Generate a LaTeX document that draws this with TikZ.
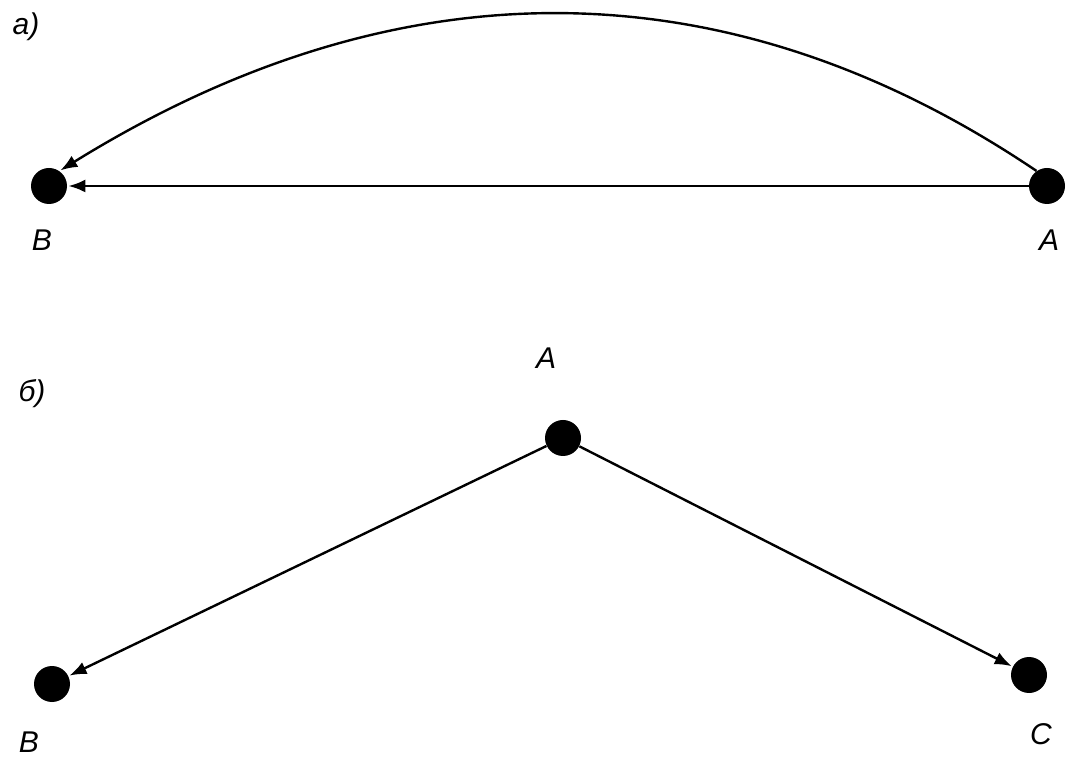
\documentclass[tikz,border=0pt]{standalone}
\usepackage{fontspec}
\setmainfont{Liberation Sans}
\usetikzlibrary{arrows.meta}

\tikzset{
  dot/.style={circle, fill=black, inner sep=0pt, minimum size=18pt},
  lbl/.style={font=\fontsize{15}{17}\selectfont\itshape, inner sep=0pt},
  edge/.style={line width=1.2pt, -{Latex[length=8.5pt, width=6.5pt]}, shorten >=0.5pt}
}

\begin{document}
\begin{tikzpicture}[x=0.5pt, y=-0.5pt]
  \useasboundingbox (0,0) rectangle (1070,763);

  % 1. Part a): two points, a straight arrow and an arc from A to B
  \node[lbl] (capa) at (26,27) {а)};
  \node[dot] (aB) at (49,186) {};
  \node[dot] (aA) at (1047,186) {};
  \node[lbl] (labaB) at (42,240) {В};
  \node[lbl] (labaA) at (1049,240) {А};

  \draw[edge] (aA) -- (aB);
  \draw[edge] (aA.125) .. controls (730,-36) and (400,-40) .. (aB.55);

  % 2. Part b): A on top, arrows down to B and C
  \node[lbl] (capb) at (32,394) {б)};
  \node[dot] (bA) at (563,438) {};
  \node[dot] (bB) at (52,684) {};
  \node[dot] (bC) at (1029,675) {};
  \node[lbl] (labbA) at (546,358) {А};
  \node[lbl] (labbB) at (29,742) {В};
  \node[lbl] (labbC) at (1041,734) {С};

  \foreach \to in {bB, bC} {
    \draw[edge] (bA) -- (\to);
  }
\end{tikzpicture}
\end{document}
